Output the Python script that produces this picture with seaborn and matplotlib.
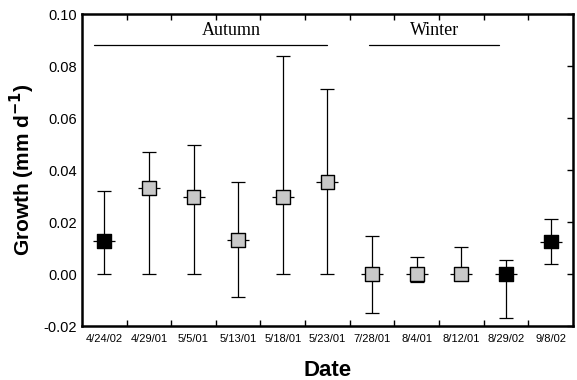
import matplotlib
matplotlib.use("Agg")
import matplotlib.pyplot as plt
import seaborn as sns
import pandas as pd
import numpy as np

dates = ["4/24/02", "4/29/01", "5/5/01", "5/13/01", "5/18/01", "5/23/01",
         "7/28/01", "8/4/01", "8/12/01", "8/29/02", "9/8/02"]
growth = [0.0127, 0.0330, 0.0295, 0.0130, 0.0295, 0.0355,
          0.0000, 0.0000, 0.0000, 0.0000, 0.0125]
lower = [0.0000, 0.0000, 0.0000, -0.0090, 0.0000, 0.0000,
         -0.0150, -0.0030, 0.0000, -0.0170, 0.0040]
upper = [0.0320, 0.0470, 0.0495, 0.0355, 0.0840, 0.0710,
         0.0145, 0.0065, 0.0105, 0.0055, 0.0210]
year = ["2002", "2001", "2001", "2001", "2001", "2001",
        "2001", "2001", "2001", "2002", "2002"]

sns.set_theme(style="white")
plt.rcParams['font.family'] = ['Liberation Sans', 'DejaVu Sans']
plt.rcParams['text.color'] = 'black'
plt.rcParams['axes.labelcolor'] = 'black'
plt.rcParams['xtick.color'] = 'black'
plt.rcParams['ytick.color'] = 'black'

df = pd.DataFrame({"date": dates, "growth": growth, "lower": lower,
                   "upper": upper, "year": year})
df["pos"] = np.arange(len(df))

fig = plt.figure(figsize=(5.77, 3.8), dpi=100)
ax = fig.add_axes([0.142, 0.142, 0.851, 0.821])

yerr = np.array([df["growth"] - df["lower"], df["upper"] - df["growth"]])
ax.errorbar(df["pos"], df["growth"], yerr=yerr, fmt="none", ecolor="black",
            elinewidth=0.9, capsize=5, capthick=0.9, zorder=2)
# small horizontal dash through the markers
ax.scatter(df["pos"], df["growth"], marker="_", s=260, color="black",
           linewidths=0.9, zorder=3)
sns.scatterplot(data=df, x="pos", y="growth", hue="year",
                palette={"2001": "#c8c8c8", "2002": "black"},
                marker="s", s=100, edgecolor="black", linewidth=1.0,
                legend=False, ax=ax, zorder=4)

ax.set_xlim(-0.5, 10.5)
ax.set_ylim(-0.02, 0.10)
ax.set_yticks([-0.02, 0.0, 0.02, 0.04, 0.06, 0.08, 0.10])
ax.set_yticklabels(["-0.02", "0.00", "0.02", "0.04", "0.06", "0.08", "0.10"],
                   fontsize=10.5)
ax.set_xticks(df["pos"])
ax.set_xticklabels(dates, fontsize=8)
ax.tick_params(axis="x", length=0, pad=6)
ax.tick_params(axis="y", direction="in", length=4, width=1, right=True,
               labelright=False)
ax.set_xticks(np.arange(0.5, 10.5, 1.0), minor=True)
ax.tick_params(axis="x", which="minor", direction="in", length=4, width=1,
               top=True, bottom=True)

for s in ax.spines.values():
    s.set_linewidth(1.8)
    s.set_color("black")

ax.set_xlabel("Date", fontsize=16, fontweight="bold", labelpad=11)
ax.set_ylabel("Growth (mm d$^{\\mathbf{-1}}$)", fontsize=15, fontweight="bold",
              labelpad=5)

# season annotations
ax.plot([-0.22, 4.99], [0.088, 0.088], color="black", linewidth=0.9)
ax.plot([5.93, 8.84], [0.088, 0.088], color="black", linewidth=0.9)
ax.text(2.85, 0.0905, "Autumn", ha="center", va="bottom", fontsize=13,
        family=["Liberation Serif", "DejaVu Serif"])
ax.text(7.4, 0.0905, "Winter", ha="center", va="bottom", fontsize=13,
        family=["Liberation Serif", "DejaVu Serif"])

fig.savefig("out.png", dpi=100)
